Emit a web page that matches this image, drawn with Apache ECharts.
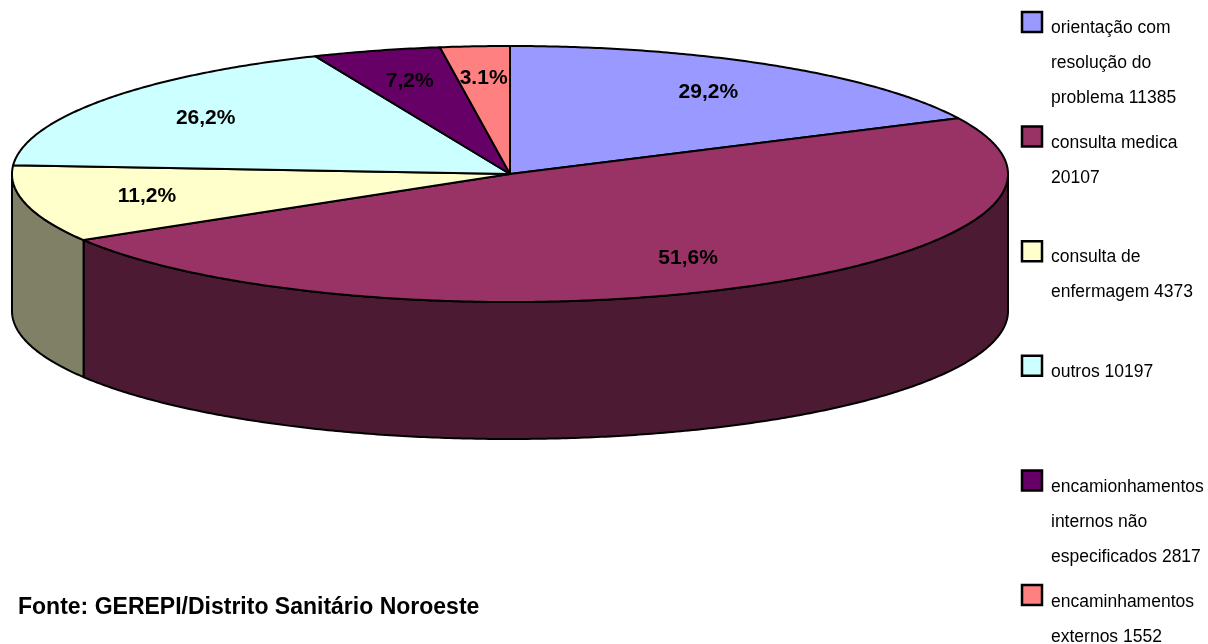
<!DOCTYPE html>
<html>
<head>
<meta charset="utf-8">
<script src="https://cdn.jsdelivr.net/npm/echarts@6/dist/echarts.min.js"></script>
<style>
  html, body { margin: 0; padding: 0; background: #ffffff; }
  #chart { width: 1208px; height: 644px; }
</style>
</head>
<body>
<div id="chart"></div>
<script>
// ---- data ----
const names = [
  'orientação com resolução do problema',
  'consulta medica',
  'consulta de enfermagem',
  'outros',
  'encamionhamentos internos não especificados',
  'encaminhamentos externos'
];
const values = [11385, 20107, 4373, 10197, 2817, 1552];
const pctLabels = ['29,2%', '51,6%', '11,2%', '26,2%', '7,2%', '3.1%'];
const colors = ['#9999FF', '#993366', '#FFFFCC', '#CCFFFF', '#660066', '#FF8080'];
const sourceText = 'Fonte: GEREPI/Distrito Sanitário Noroeste';

// ---- 3D pie geometry (layout) ----
const CX = 510, CY = 174, RX = 498, RYT = 128, RYB = 128, DEPTH = 137;
const PERSP = 0.73;     // perspective warp of angles
const LABEL_R = 0.75;
const FONT = '"Liberation Sans", Arial, sans-serif';

const total = values.reduce((a, b) => a + b, 0);
const cum = [0];
values.forEach((v, i) => cum.push(cum[i] + v));

function warp(theta) { // data angle (rad, clockwise from top) -> projected ellipse angle
  return 2 * Math.atan2(PERSP * Math.sin(theta / 2), Math.cos(theta / 2));
}
function rim(t, dy) {
  const c = Math.cos(t), s = Math.sin(t);
  return [CX + RX * s, CY - c * (c > 0 ? RYT : RYB) + (dy || 0)];
}
function shade(hex, f) {
  const n = parseInt(hex.slice(1), 16);
  const r = Math.round(((n >> 16) & 255) * f), g = Math.round(((n >> 8) & 255) * f), b = Math.round((n & 255) * f);
  return 'rgb(' + r + ',' + g + ',' + b + ')';
}
function arcPts(a, b, dy) {
  const pts = [];
  const n = Math.max(2, Math.ceil((b - a) / (Math.PI / 360)));
  for (let k = 0; k <= n; k++) pts.push(rim(a + (b - a) * k / n, dy));
  return pts;
}

function renderItem(params, api) {
  const i = params.dataIndex;
  const v = api.value(0);
  const th1 = cum[i] / total * 2 * Math.PI;
  const th2 = (cum[i] + v) / total * 2 * Math.PI;
  const t1 = warp(th1), t2 = warp(th2);
  const children = [];
  // front side wall
  const a = Math.max(t1, Math.PI / 2), b = Math.min(t2, 3 * Math.PI / 2);
  if (a < b) {
    const top = arcPts(a, b, 0);
    const bot = arcPts(a, b, DEPTH).reverse();
    children.push({
      type: 'polygon', z2: 1,
      shape: { points: top.concat(bot) },
      style: { fill: shade(colors[i], 0.5), stroke: '#000', lineWidth: 2, lineJoin: 'round' }
    });
  }
  // top face
  children.push({
    type: 'polygon', z2: 2,
    shape: { points: [[CX, CY]].concat(arcPts(t1, t2, 0)) },
    style: { fill: colors[i], stroke: '#000', lineWidth: 2, lineJoin: 'round' }
  });
  // percentage label
  const tm = (t1 + t2) / 2;
  const c = Math.cos(tm), s = Math.sin(tm);
  children.push({
    type: 'text', z2: 10,
    style: {
      x: CX + LABEL_R * RX * s,
      y: CY - LABEL_R * c * (c > 0 ? RYT : RYB),
      text: pctLabels[i],
      font: 'bold 21px ' + FONT,
      fill: '#000',
      align: 'center', verticalAlign: 'middle',
      textAlign: 'center', textVerticalAlign: 'middle'
    }
  });
  return { type: 'group', children };
}

// ---- legend + source text via graphic ----
const graphics = [];
names.forEach((n, i) => {
  graphics.push({
    type: 'rect',
    shape: { x: 1022, y: 12 + 114.6 * i, width: 20, height: 20 },
    style: { fill: colors[i], stroke: '#000', lineWidth: 2.5 }
  });
  graphics.push({
    type: 'text',
    style: {
      x: 1051, y: 10.5 + 114.8 * i,
      text: n + ' ' + values[i],
      width: 165, overflow: 'break',
      lineHeight: 35,
      font: '17.5px ' + FONT,
      fill: '#000'
    }
  });
});
graphics.push({
  type: 'text',
  style: {
    x: 18, y: 608,
    text: sourceText,
    font: 'bold 23px ' + FONT,
    fill: '#000',
    verticalAlign: 'middle', textVerticalAlign: 'middle'
  }
});

const chart = echarts.init(document.getElementById('chart'), null, { renderer: 'canvas' });
chart.setOption({
  backgroundColor: '#ffffff',
  animation: false,
  series: [{
    type: 'custom',
    coordinateSystem: 'none',
    renderItem: renderItem,
    data: values.map((v, i) => ({ value: [v], name: names[i] }))
  }],
  graphic: graphics
});
</script>
</body>
</html>
